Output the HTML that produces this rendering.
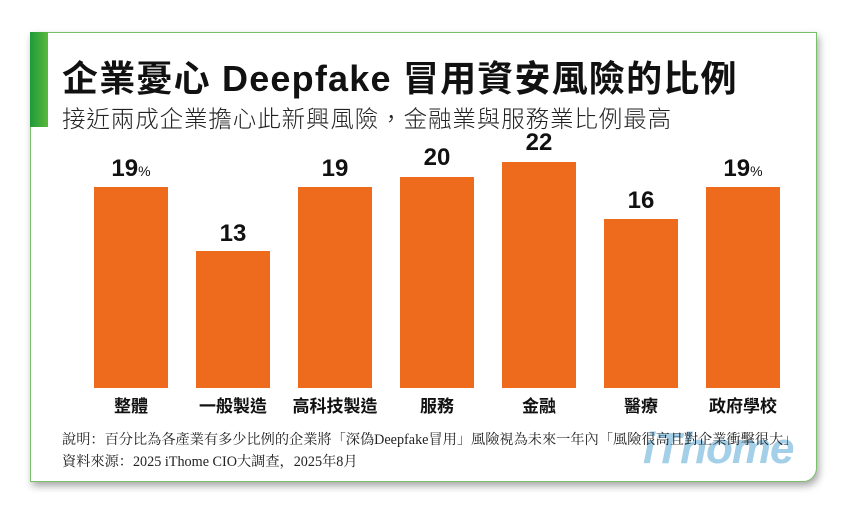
<!DOCTYPE html>
<html><head><meta charset="utf-8"><style>
body{margin:0;width:846px;height:512px;background:#fff;position:relative;overflow:hidden;font-family:"Liberation Sans","Noto Sans CJK TC",sans-serif}
.card{position:absolute;left:30px;top:32px;width:785px;height:448px;border:1px solid #7cbf6a;border-radius:0 0 14px 0;box-shadow:2px 4px 8px rgba(0,0,0,.35);background:#fff}
.g{position:absolute;left:30px;top:32px;width:18px;height:95px;background:linear-gradient(90deg,#1e9a3a,#5cb83c)}
.t{position:absolute;left:62px;top:50px;font-size:36px;font-weight:bold;color:#111;white-space:nowrap;letter-spacing:1.2px}
.s{position:absolute;left:62px;top:100px;font-size:23.5px;color:#222;white-space:nowrap;font-weight:300;letter-spacing:0.9px}
.b{position:absolute;width:74px;background:#ee6b1e;bottom:124px}
.v{position:absolute;width:74px;text-align:center;font-size:24px;font-weight:bold;color:#111}
.v small{font-size:14px;font-weight:normal}
.c{position:absolute;width:102px;text-align:center;top:392px;font-size:17px;font-weight:bold;color:#111}
.f{position:absolute;left:62px;font-family:"Liberation Serif","Noto Serif CJK SC",serif;font-size:14.2px;color:#222;white-space:nowrap}
.logo{position:absolute;left:643px;top:424px;font-size:44px;font-weight:bold;font-style:italic;color:#a3cfe8;letter-spacing:-1px}
</style></head><body>
<div class="card"></div><div class="g"></div>
<div class="t">企業憂心 Deepfake 冒用資安風險的比例</div>
<div class="s">接近兩成企業擔心此新興風險，金融業與服務業比例最高</div>

<div class="b" style="left:94px;height:201px"></div><div class="v" style="left:94px;top:155px">19<small>%</small></div>
<div class="b" style="left:196px;height:137px"></div><div class="v" style="left:196px;top:220px">13</div>
<div class="b" style="left:298px;height:201px"></div><div class="v" style="left:298px;top:155px">19</div>
<div class="b" style="left:400px;height:211px"></div><div class="v" style="left:400px;top:144px">20</div>
<div class="b" style="left:502px;height:226px"></div><div class="v" style="left:502px;top:129px">22</div>
<div class="b" style="left:604px;height:169px"></div><div class="v" style="left:604px;top:187px">16</div>
<div class="b" style="left:706px;height:201px"></div><div class="v" style="left:706px;top:155px">19<small>%</small></div>

<div class="c" style="left:80px">整體</div>
<div class="c" style="left:182px">一般製造</div>
<div class="c" style="left:284px">高科技製造</div>
<div class="c" style="left:386px">服務</div>
<div class="c" style="left:488px">金融</div>
<div class="c" style="left:590px">醫療</div>
<div class="c" style="left:692px">政府學校</div>

<div class="logo">iThome</div>
<div class="f" style="top:429px">說明：百分比為各產業有多少比例的企業將「深偽Deepfake冒用」風險視為未來一年內「風險很高且對企業衝擊很大」</div>
<div class="f" style="top:451px">資料來源：2025 iThome CIO大調查，2025年8月</div>
</body></html>
